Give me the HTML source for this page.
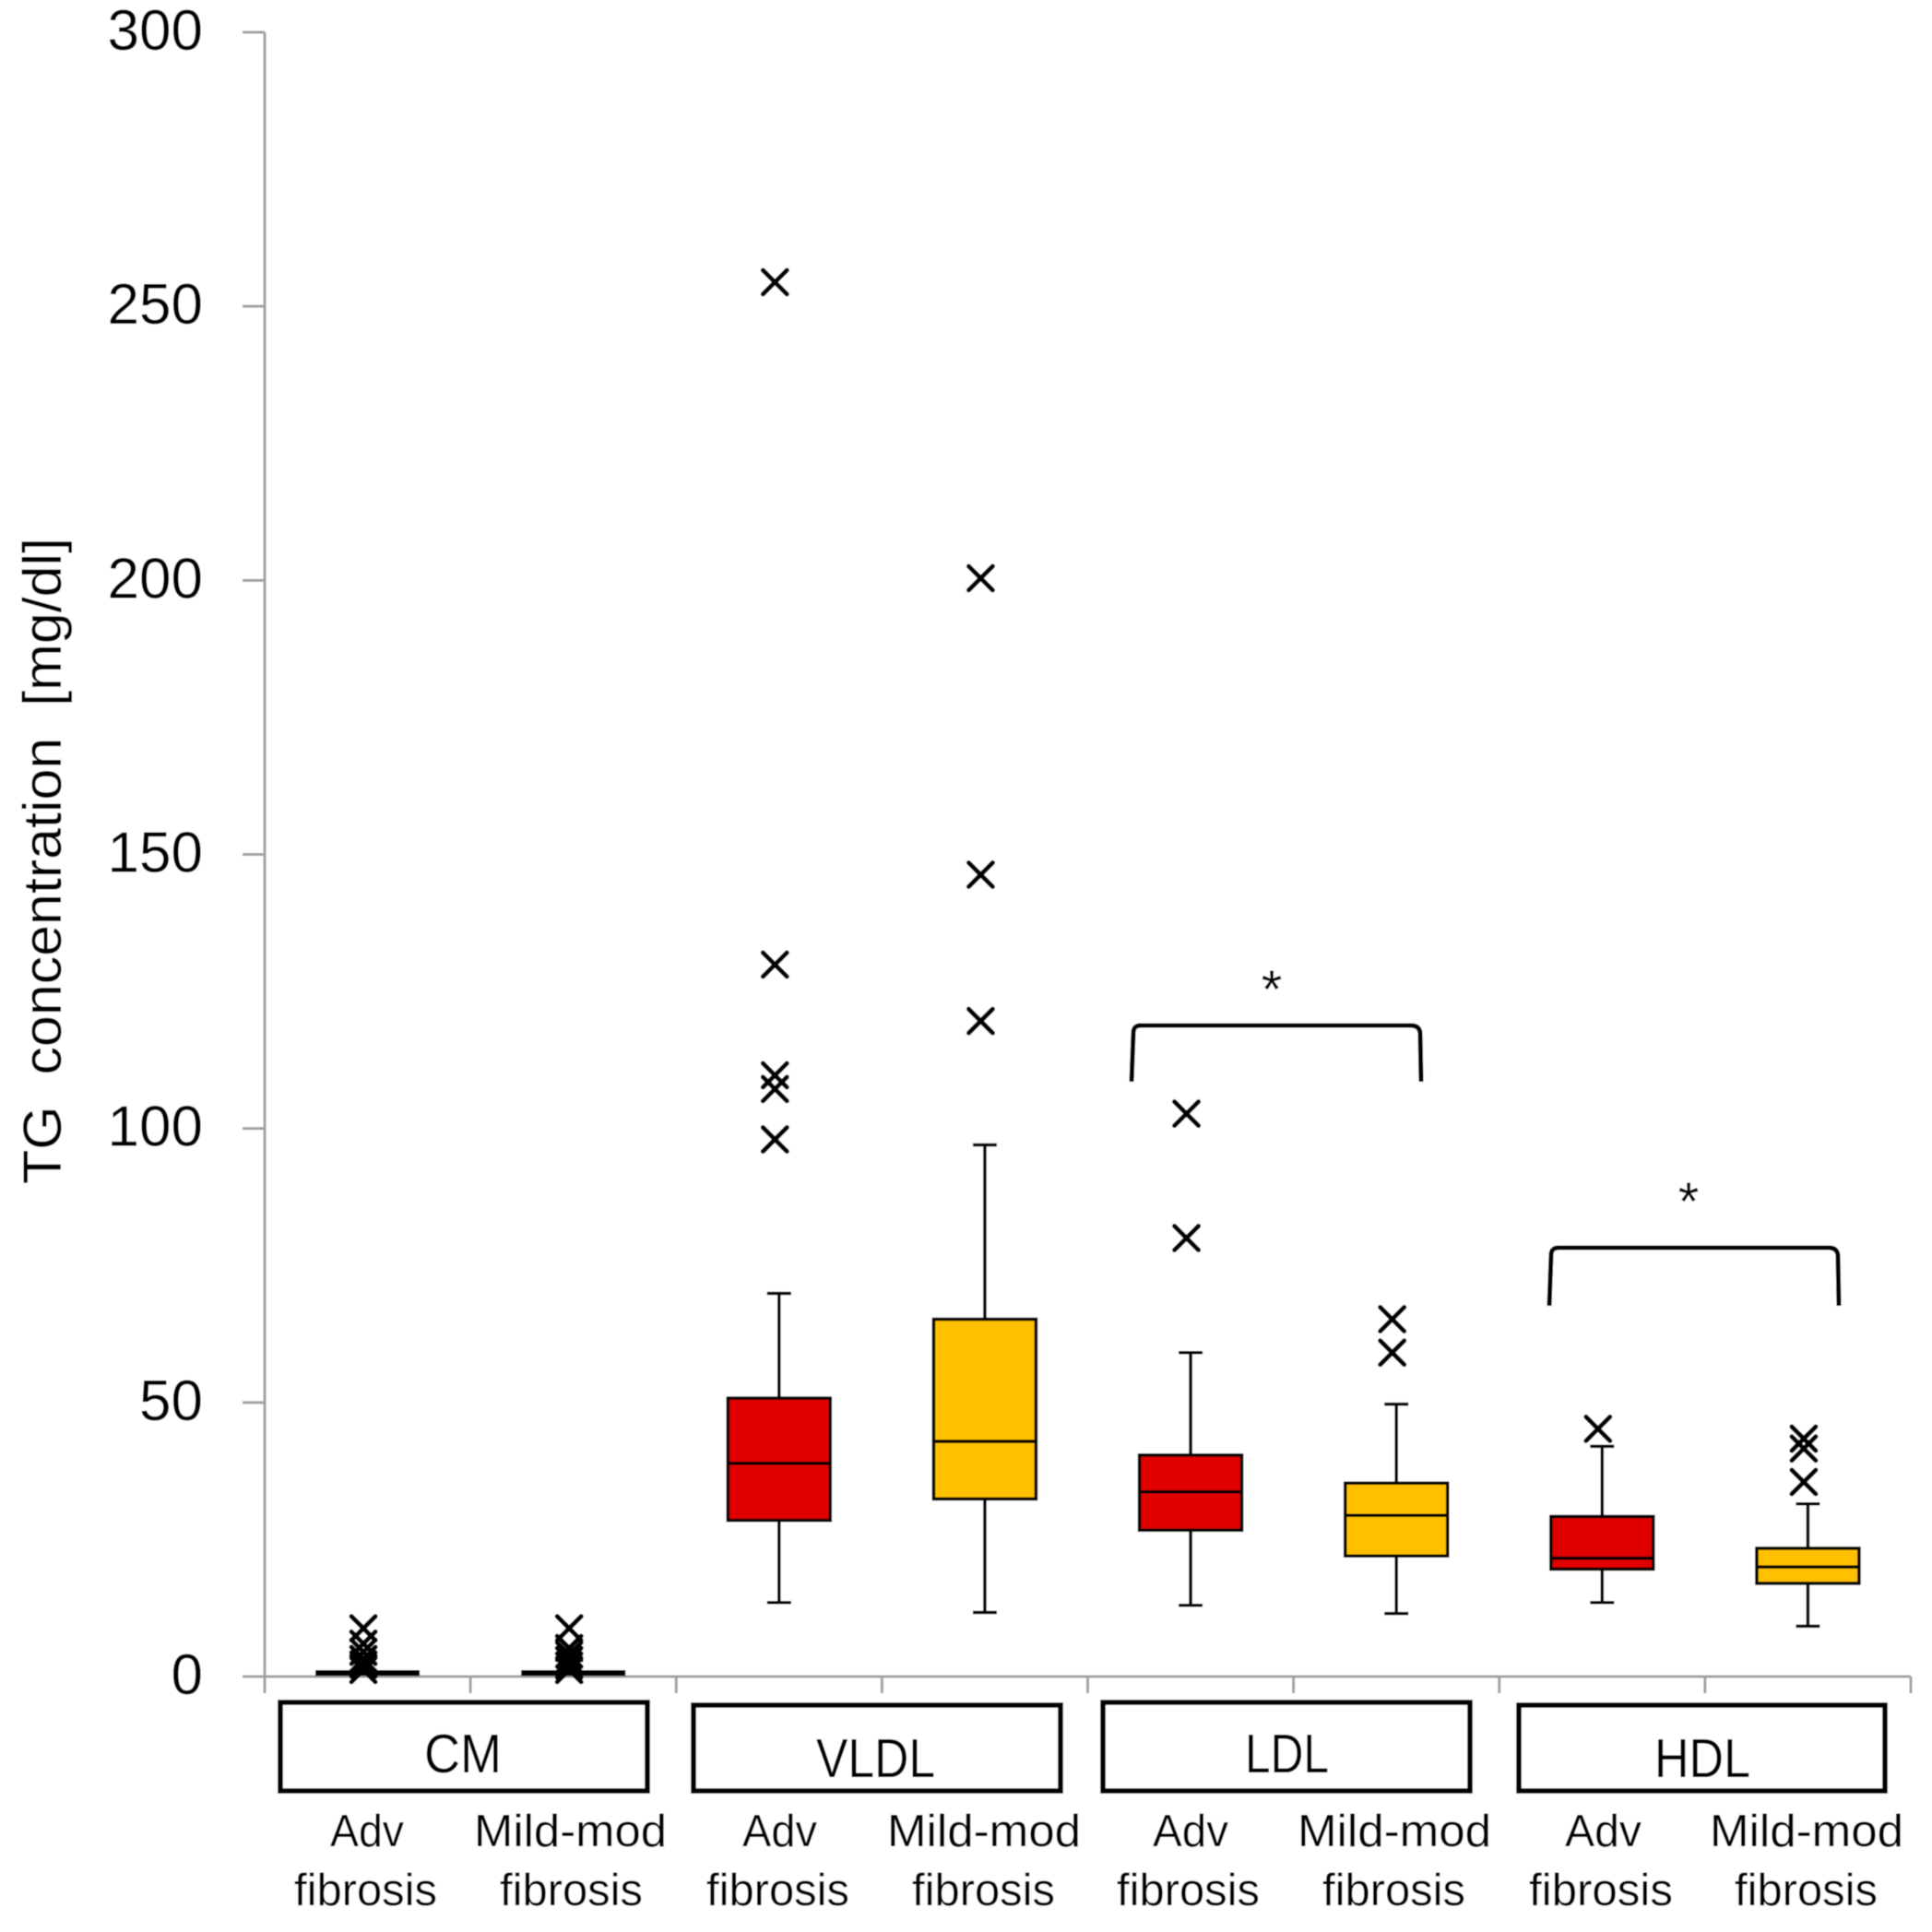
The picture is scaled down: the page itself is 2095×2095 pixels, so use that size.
<!DOCTYPE html>
<html lang="en">
<head>
<meta charset="utf-8">
<title>TG concentration by lipoprotein class and fibrosis stage</title>
<style>
html,body{margin:0;padding:0;background:#fff;}
svg{display:block;}
text{font-family:"Liberation Sans",sans-serif;fill:#000;}
</style>
</head>
<body>
<svg id="chart" xmlns="http://www.w3.org/2000/svg" width="2095" height="2095" viewBox="0 0 2095 2095">
  <defs>
    <filter id="soft" x="0" y="0" width="100%" height="100%" filterUnits="objectBoundingBox">
      <feGaussianBlur stdDeviation="0.6"/>
    </filter>
  </defs>
  <rect x="0" y="0" width="2095" height="2095" fill="#fff"/>

  <g filter="url(#soft)">
  <rect x="0" y="0" width="2095" height="2095" fill="#fff"/>
  <g id="axes"></g>
  <g id="marks"></g>

  <text transform="translate(66,1284) rotate(-90)" font-size="58" textLength="701" lengthAdjust="spacingAndGlyphs" xml:space="preserve">TG  concentration  [mg/dl]</text>

  <g>
    <path d="M1227 1173 L1229 1120 Q1229 1112 1237 1112 L1530 1112 Q1539 1112 1540 1120 L1541 1173" fill="none" stroke="#000" stroke-width="5"/>
    <text x="1379" y="1093" font-size="58" text-anchor="middle">*</text>
  </g>
  <g>
    <path d="M1680 1416 L1682 1361 Q1682 1353 1690 1353 L1983 1353 Q1992 1353 1993 1361 L1994 1416" fill="none" stroke="#000" stroke-width="5"/>
    <text x="1831" y="1323" font-size="58" text-anchor="middle">*</text>
  </g>

  <g fill="none" stroke="#000" stroke-width="5.5">
    <rect x="304" y="1846" width="398" height="96"/>
    <rect x="752" y="1849" width="398" height="93"/>
    <rect x="1196" y="1846" width="398" height="96"/>
    <rect x="1647" y="1849" width="397" height="93"/>
  </g>
  <g font-size="59">
    <text x="460" y="1922" textLength="84" lengthAdjust="spacingAndGlyphs">CM</text>
    <text x="885" y="1927" textLength="129" lengthAdjust="spacingAndGlyphs">VLDL</text>
    <text x="1350" y="1922" textLength="91" lengthAdjust="spacingAndGlyphs">LDL</text>
    <text x="1794" y="1927" textLength="104" lengthAdjust="spacingAndGlyphs">HDL</text>
  </g>

  <g font-size="49">
    <text x="358" y="2002" textLength="80" lengthAdjust="spacingAndGlyphs">Adv</text>
    <text x="319" y="2066" textLength="155" lengthAdjust="spacingAndGlyphs">fibrosis</text>
    <text x="514" y="2002" textLength="209" lengthAdjust="spacingAndGlyphs">Mild-mod</text>
    <text x="542" y="2066" textLength="155" lengthAdjust="spacingAndGlyphs">fibrosis</text>

    <text x="805" y="2002" textLength="81" lengthAdjust="spacingAndGlyphs">Adv</text>
    <text x="766" y="2066" textLength="155" lengthAdjust="spacingAndGlyphs">fibrosis</text>
    <text x="962" y="2002" textLength="210" lengthAdjust="spacingAndGlyphs">Mild-mod</text>
    <text x="989" y="2066" textLength="155" lengthAdjust="spacingAndGlyphs">fibrosis</text>

    <text x="1250" y="2002" textLength="82" lengthAdjust="spacingAndGlyphs">Adv</text>
    <text x="1211" y="2066" textLength="155" lengthAdjust="spacingAndGlyphs">fibrosis</text>
    <text x="1407" y="2002" textLength="210" lengthAdjust="spacingAndGlyphs">Mild-mod</text>
    <text x="1434" y="2066" textLength="155" lengthAdjust="spacingAndGlyphs">fibrosis</text>

    <text x="1697" y="2002" textLength="83" lengthAdjust="spacingAndGlyphs">Adv</text>
    <text x="1658" y="2066" textLength="156" lengthAdjust="spacingAndGlyphs">fibrosis</text>
    <text x="1854" y="2002" textLength="210" lengthAdjust="spacingAndGlyphs">Mild-mod</text>
    <text x="1881" y="2066" textLength="155" lengthAdjust="spacingAndGlyphs">fibrosis</text>
  </g>
  </g>
</svg>

<script>
var yTickValues = [0, 50, 100, 150, 200, 250, 300];
var categories = ['cm-adv', 'cm-mild', 'vldl-adv', 'vldl-mild', 'ldl-adv', 'ldl-mild', 'hdl-adv', 'hdl-mild'];
var whiskerLow = [0.3, 0.3, 13.5, 11.7, 13, 11.5, 13.5, 9.2];
var q1 = [0.3, 0.3, 28.5, 32.4, 26.7, 22, 19.6, 17];
var median = [0.6, 0.6, 38.9, 42.9, 33.7, 29.4, 21.6, 20];
var q3 = [1, 1, 50.8, 65.2, 40.4, 35.3, 29.2, 23.4];
var whiskerHigh = [1, 1, 69.9, 97, 59.1, 49.7, 42, 31.5];
var outliers = [
  [8.8, 6, 4.5, 3.2, 2.2, 1.2],
  [8.8, 5.2, 4, 3, 2, 1.2],
  [254.4, 129.9, 109.7, 107.2, 98],
  [200.4, 146.3, 119.6],
  [102.7, 80],
  [65.2, 59.1],
  [45.2],
  [43.4, 41.6, 35.5]
];
var palette = ['#E00000', '#FFC000'];

var NS = 'http://www.w3.org/2000/svg';
var Y0 = 1818, PX_PER_UNIT = (1818 - 35) / 300;
var X0 = 287, X1 = 2072;
function yScale(v) { return Y0 - v * PX_PER_UNIT; }
function bandWidth() { return (X1 - X0) / categories.length; }
function xScale(i) { return X0 + bandWidth() * (i + 0.5); }

function make(parent, tag, attrs) {
  var el = document.createElementNS(NS, tag);
  for (var k in attrs) { el.setAttribute(k, attrs[k]); }
  parent.appendChild(el);
  return el;
}

var axes = document.getElementById('axes');
var marks = document.getElementById('marks');
var axisColor = '#A0A0A0';

var yAxisLine = make(axes, 'line', {x1: X0, x2: X0, y1: yScale(300), y2: Y0 + 18, stroke: axisColor, 'stroke-width': 3});



var xAxisLine = make(axes, 'line', {x1: 263, x2: X1, y1: Y0, y2: Y0, stroke: axisColor, 'stroke-width': 3});



yTickValues.forEach(function (v) {
  var tick = make(axes, 'line', {x1: 263, x2: X0, y1: yScale(v), y2: yScale(v), stroke: axisColor, 'stroke-width': 3});
  
  
  var label = make(axes, 'text', {x: 220, y: yScale(v) + 19, 'font-size': 62, 'text-anchor': 'end'});
  label.textContent = String(v);
  
  
});

categories.forEach(function (c, i) {
  var xt = X0 + bandWidth() * (i + 1);
  var tick = make(axes, 'line', {x1: xt, x2: xt, y1: Y0, y2: Y0 + 18, stroke: axisColor, 'stroke-width': 3});
  
  
});

categories.forEach(function (c, i) {
  var cx = xScale(i);
  var boxW = 111;
  var capW = 26;
  var lineColor = '#000';

  var g = make(marks, 'g', {});
  
  

  var whisker = make(g, 'line', {x1: cx, x2: cx, y1: yScale(whiskerHigh[i]), y2: yScale(whiskerLow[i]), stroke: lineColor, 'stroke-width': 3.5});
  
  

  if (i > 1) {
    var capTop = make(g, 'line', {x1: cx - capW / 2, x2: cx + capW / 2, y1: yScale(whiskerHigh[i]), y2: yScale(whiskerHigh[i]), stroke: lineColor, 'stroke-width': 3.5});
    
    
    var capBottom = make(g, 'line', {x1: cx - capW / 2, x2: cx + capW / 2, y1: yScale(whiskerLow[i]), y2: yScale(whiskerLow[i]), stroke: lineColor, 'stroke-width': 3.5});
    
    
  }

  var rect = make(g, 'rect', {
    x: cx - boxW / 2,
    y: yScale(q3[i]),
    width: boxW,
    height: yScale(q1[i]) - yScale(q3[i]),
    fill: palette[i % 2],
    stroke: '#000',
    'stroke-width': i > 1 ? 3.5 : 2
  });
  
  

  var med = make(g, 'line', {x1: cx - boxW / 2, x2: cx + boxW / 2, y1: yScale(median[i]), y2: yScale(median[i]), stroke: '#000', 'stroke-width': 3.5});
  
  

  outliers[i].forEach(function (v) {
    var ox = cx - 4.5;
    var oy = yScale(v);
    var r = 13;
    var p = make(g, 'path', {
      d: 'M' + (ox - r) + ' ' + (oy - r) + 'L' + (ox + r) + ' ' + (oy + r) + 'M' + (ox + r) + ' ' + (oy - r) + 'L' + (ox - r) + ' ' + (oy + r),
      fill: 'none',
      stroke: '#000',
      'stroke-width': 5,
      'stroke-linecap': 'round'
    });
    
    
  });
});
</script>
</body>
</html>
